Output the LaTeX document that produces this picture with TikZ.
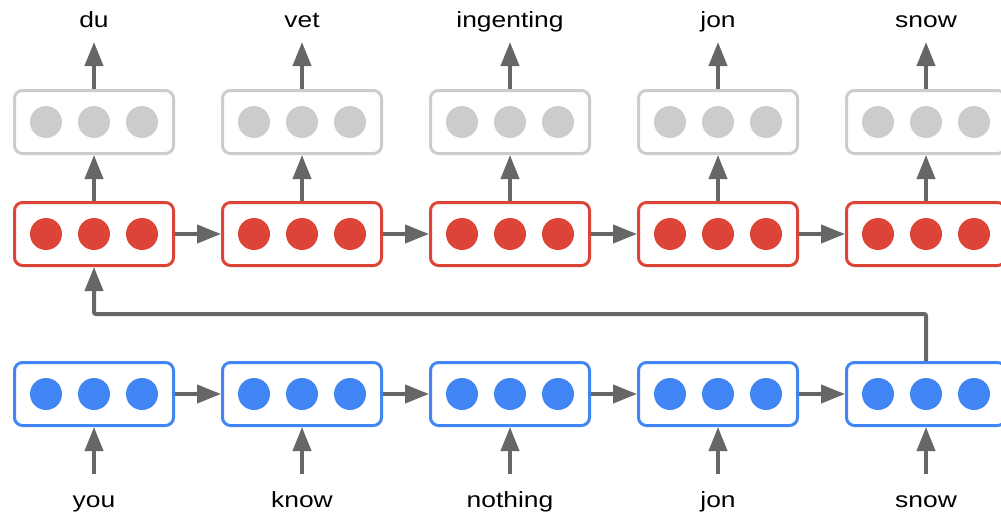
\documentclass[tikz,border=0pt]{standalone}
\usepackage{fontspec}
\setmainfont{Liberation Sans}[FakeStretch=1.2]
\usetikzlibrary{arrows.meta}
\definecolor{encblue}{HTML}{4285F4}
\definecolor{decred}{HTML}{DB4437}
\definecolor{outgray}{HTML}{CCCCCC}
\definecolor{arrowgray}{HTML}{666666}
\tikzset{
  cell/.style={draw=#1, line width=3pt, rounded corners=8pt, fill=white,
    minimum width=159pt, minimum height=63pt, inner sep=0pt},
  unit/.style={circle, fill=#1, minimum size=32pt, inner sep=0pt},
  word/.style={font=\fontsize{22}{26}\selectfont, anchor=base, inner sep=0pt},
  conn/.style={draw=arrowgray, line width=4pt,
    -{Triangle[length=24pt,width=18pt]}},
}
\begin{document}
\begin{tikzpicture}[x=1pt,y=-1pt]
\useasboundingbox (0,0) rectangle (1001,517);
\clip (0,0) rectangle (1001,517);
\foreach \i/\src/\tgt in {1/you/du,2/know/vet,3/nothing/ingenting,4/jon/jon,5/snow/snow}{
  \pgfmathsetmacro{\cx}{94+208*(\i-1)}
  % output layer (gray), decoder (red), encoder (blue)
  \node[cell=outgray] (g\i) at (\cx,122) {};
  \node[cell=decred]  (r\i) at (\cx,234) {};
  \node[cell=encblue] (b\i) at (\cx,394) {};
  \foreach \k in {-1,0,1}{
    \node[unit=outgray] (g\i c\k) at (\cx+48*\k,122) {};
    \node[unit=decred]  (r\i c\k) at (\cx+48*\k,234) {};
    \node[unit=encblue] (b\i c\k) at (\cx+48*\k,394) {};
  }
  \node[word] (out\i) at (\cx,27) {\tgt};
  \node[word] (in\i) at (\cx,507) {\src};
  \coordinate (top\i) at (\cx,42);
  \coordinate (bot\i) at (\cx,474);
  \draw[conn] (g\i.north) -- (top\i);
  \draw[conn] (r\i.north) -- (g\i.south);
  \draw[conn] (bot\i) -- (b\i.south);
}
\foreach \i [evaluate=\i as \j using int(\i+1)] in {1,2,3,4}{
  \draw[conn] (r\i.east) -- (r\j.west);
  \draw[conn] (b\i.east) -- (b\j.west);
}
% encoder state handed to the decoder
\draw[conn, rounded corners=2pt] (b5.north) |- (94,314) -- (r1.south);
\end{tikzpicture}
\end{document}
